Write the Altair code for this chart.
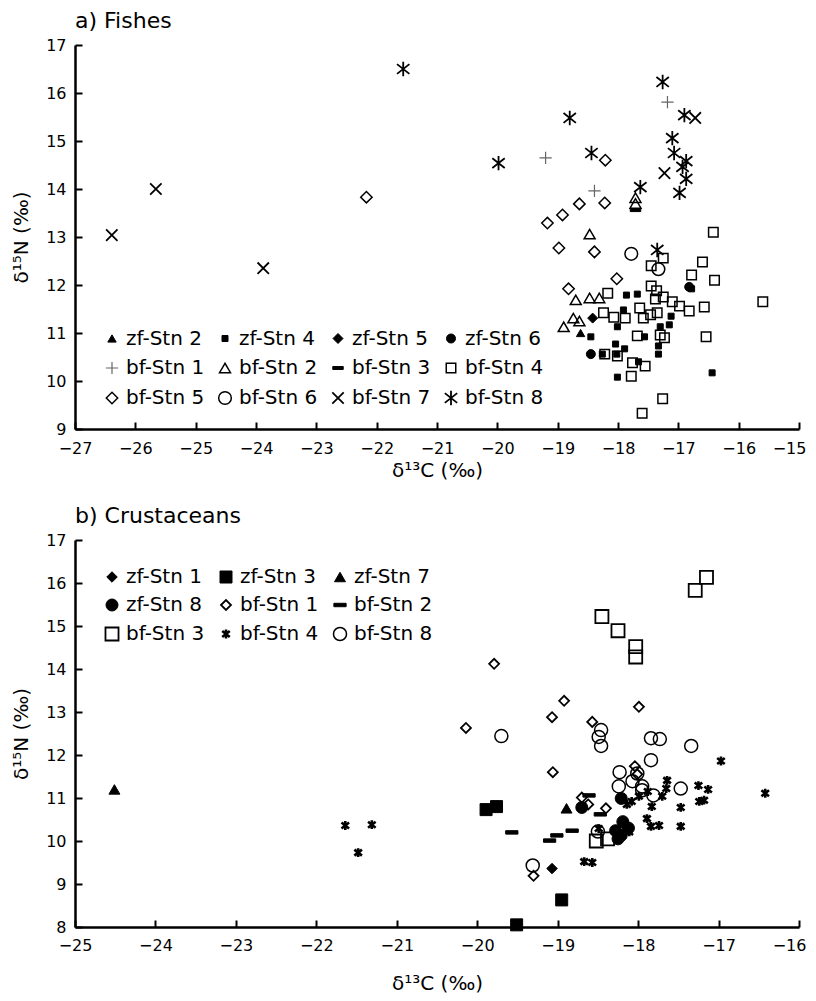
import altair as alt
import pandas as pd

# ---------------- a) Fishes ----------------
fa_names = ["zf-Stn 2", "zf-Stn 4", "zf-Stn 5", "zf-Stn 6",
            "bf-Stn 1", "bf-Stn 2", "bf-Stn 3", "bf-Stn 4",
            "bf-Stn 5", "bf-Stn 6", "bf-Stn 7", "bf-Stn 8"]

fa_zf2_x = [-18.62]
fa_zf2_y = [11.00]
fa_zf4_x = [-17.86, -17.68, -17.91, -17.12, -17.15, -17.30, -18.01, -18.45, -17.56, -18.04,
            -17.89, -17.33, -18.02, -18.26, -17.33, -17.66, -18.01, -16.44, -16.78]
fa_zf4_y = [11.79, 11.81, 11.48, 11.35, 11.17, 11.13, 11.13, 10.92, 10.92, 10.77,
            10.67, 10.73, 10.56, 10.56, 10.56, 10.40, 10.08, 10.17, 11.92]
fa_zf5_x = [-18.42]
fa_zf5_y = [11.31]
fa_zf6_x = [-18.45, -16.82]
fa_zf6_y = [10.56, 11.96]
fa_bf1_x = [-19.20, -17.18, -18.39]
fa_bf1_y = [14.65, 15.81, 13.96]
fa_bf2_x = [-17.71, -17.71, -18.47, -18.70, -18.47, -18.31, -18.90, -18.74, -18.64]
fa_bf2_y = [13.82, 13.70, 13.06, 11.69, 11.73, 11.73, 11.13, 11.31, 11.25]
fa_bf3_x = [-17.71]
fa_bf3_y = [13.56]
fa_bf4_x = [-16.42, -17.25, -17.45, -16.60, -16.78, -16.40, -18.17, -17.45, -17.36, -17.25,
            -17.38, -17.10, -16.98, -16.82, -16.57, -17.64, -17.46, -17.35, -17.58, -18.24,
            -18.07, -17.88, -17.68, -17.30, -17.23, -16.54, -18.01, -18.22, -17.76, -17.55,
            -17.78, -17.26, -17.60, -15.60]
fa_bf4_y = [13.10, 12.56, 12.40, 12.48, 12.21, 12.10, 11.83, 11.98, 11.88, 11.75,
            11.71, 11.65, 11.56, 11.46, 11.54, 11.52, 11.38, 11.42, 11.31, 11.42,
            11.33, 11.31, 10.94, 10.96, 10.90, 10.92, 10.52, 10.56, 10.38, 10.31,
            10.10, 9.63, 9.33, 11.65]
fa_bf5_x = [-22.17, -18.21, -19.17, -18.92, -18.64, -18.22, -18.98, -18.39, -18.02, -18.82]
fa_bf5_y = [13.83, 14.60, 13.29, 13.46, 13.69, 13.71, 12.77, 12.69, 12.13, 11.92]
fa_bf6_x = [-17.78, -17.33]
fa_bf6_y = [12.65, 12.33]
fa_bf7_x = [-26.39, -25.66, -23.88, -16.72, -17.23]
fa_bf7_y = [13.04, 14.00, 12.35, 15.48, 14.33]
fa_bf8_x = [-21.56, -17.26, -16.90, -18.80, -19.98, -18.44, -17.10, -17.07, -16.87, -16.93,
            -16.87, -16.98, -17.63, -17.35]
fa_bf8_y = [16.50, 16.23, 15.54, 15.48, 14.54, 14.75, 15.06, 14.75, 14.58, 14.46,
            14.21, 13.92, 14.04, 12.73]

# ---------------- b) Crustaceans ----------------
cb_names = ["zf-Stn 1", "zf-Stn 3", "zf-Stn 7",
            "zf-Stn 8", "bf-Stn 1", "bf-Stn 2",
            "bf-Stn 3", "bf-Stn 4", "bf-Stn 8"]

cb_zf1_x = [-19.07]
cb_zf1_y = [9.36]
cb_zf3_x = [-19.89, -19.76, -18.95, -19.51]
cb_zf3_y = [10.73, 10.80, 8.63, 8.05]
cb_zf7_x = [-24.51, -18.89]
cb_zf7_y = [11.20, 10.76]
cb_zf8_x = [-18.70, -18.21, -18.19, -18.21, -18.28, -18.12, -18.25]
cb_zf8_y = [10.78, 10.99, 10.45, 10.13, 10.24, 10.30, 10.05]
cb_bf1_x = [-19.79, -20.14, -18.92, -19.07, -17.99, -18.57, -19.06, -18.70, -18.04, -18.01,
            -18.40, -19.30, -18.62]
cb_bf1_y = [14.12, 12.63, 13.26, 12.88, 13.12, 12.77, 11.60, 11.01, 11.74, 11.55,
            10.76, 9.19, 10.85]
cb_bf2_x = [-19.57, -19.10, -19.01, -18.82, -18.61, -18.47]
cb_bf2_y = [10.20, 10.01, 10.13, 10.24, 11.06, 10.62]
cb_bf3_x = [-17.15, -17.29, -18.45, -18.25, -18.03, -18.03, -18.52, -18.38]
cb_bf3_y = [16.13, 15.83, 15.22, 14.89, 14.52, 14.28, 10.00, 10.05]
cb_bf4_x = [-21.64, -21.31, -21.48, -16.97, -16.42, -17.25, -17.13, -17.24, -17.18, -17.47,
            -17.47, -17.64, -17.65, -17.70, -17.83, -17.89, -17.84, -17.74, -17.88, -18.14,
            -18.08, -17.99, -18.11, -18.49, -18.67, -18.57]
cb_bf4_y = [10.36, 10.38, 9.73, 11.86, 11.11, 11.29, 11.20, 10.92, 10.95, 10.78,
            10.34, 11.41, 11.22, 11.04, 10.80, 10.52, 10.34, 10.36, 11.15, 10.85,
            10.92, 11.04, 10.21, 10.29, 9.52, 9.50]
cb_bf8_x = [-19.70, -18.46, -18.49, -18.46, -17.84, -17.73, -17.34, -17.84, -18.23, -18.07,
            -17.95, -18.24, -17.47, -18.01, -17.95, -17.81, -19.31, -18.50]
cb_bf8_y = [12.44, 12.58, 12.42, 12.21, 12.39, 12.37, 12.21, 11.88, 11.60, 11.39,
            11.27, 11.27, 11.22, 11.57, 11.18, 11.06, 9.43, 10.22]

# ---------------- marker styles ----------------
PLUS = "M-1,0L1,0M0,-1L0,1"
DASH = "M-1,-0.28L1,-0.28L1,0.28L-1,0.28Z"
XMARK = "M-1,-1L1,1M-1,1L1,-1"
AST = "M-0.95,-0.75L0.95,0.75M-0.95,0.75L0.95,-0.75M0,-1.1L0,1.1"

fa_shapes = ["triangle-up", "square", "diamond", "circle",
             PLUS, "triangle-up", DASH, "square",
             "diamond", "circle", XMARK, AST]
fa_fills = ["black", "black", "black", "black",
            "transparent", "transparent", "black", "transparent",
            "transparent", "transparent", "transparent", "transparent"]
fa_strokes = ["black", "black", "black", "black",
              "#666666", "black", "black", "black",
              "black", "black", "black", "black"]
fa_sizes = [70, 36, 100, 81, 150, 120, 110, 90, 130, 160, 130, 170]
fa_widths = [1, 1, 1, 1, 1.2, 1.5, 1, 1.5, 1.5, 1.5, 1.8, 1.8]

cb_shapes = ["diamond", "square", "triangle-up",
             "circle", "diamond", DASH,
             "square", AST, "circle"]
cb_fills = ["black", "black", "black",
            "black", "transparent", "black",
            "transparent", "transparent", "transparent"]
cb_strokes = ["black"] * 9
cb_sizes = [110, 144, 120, 144, 100, 150, 170, 64, 170]
cb_widths = [1, 1, 1, 1, 1.8, 1, 1.8, 2.6, 1.5]

FONT = "DejaVu Sans"


def frame(names, xs, ys):
    rows = []
    for n, xl, yl in zip(names, xs, ys):
        for a, b in zip(xl, yl):
            rows.append({"series": n, "x": a, "y": b})
    return pd.DataFrame(rows)


fa_df = frame(fa_names,
              [fa_zf2_x, fa_zf4_x, fa_zf5_x, fa_zf6_x, fa_bf1_x, fa_bf2_x,
               fa_bf3_x, fa_bf4_x, fa_bf5_x, fa_bf6_x, fa_bf7_x, fa_bf8_x],
              [fa_zf2_y, fa_zf4_y, fa_zf5_y, fa_zf6_y, fa_bf1_y, fa_bf2_y,
               fa_bf3_y, fa_bf4_y, fa_bf5_y, fa_bf6_y, fa_bf7_y, fa_bf8_y])
cb_df = frame(cb_names,
              [cb_zf1_x, cb_zf3_x, cb_zf7_x, cb_zf8_x, cb_bf1_x, cb_bf2_x,
               cb_bf3_x, cb_bf4_x, cb_bf8_x],
              [cb_zf1_y, cb_zf3_y, cb_zf7_y, cb_zf8_y, cb_bf1_y, cb_bf2_y,
               cb_bf3_y, cb_bf4_y, cb_bf8_y])

W = 724


def panel(df, names, shapes, fills, strokes, sizes, widths, xdom, ydom, H,
          title, title_off, ncols, lx, ly, col_pad, grid_align, xlab_pad, xtitle_pad):
    xs = alt.Scale(domain=xdom, nice=False, zero=False)
    ys = alt.Scale(domain=ydom, nice=False, zero=False)
    xvals = list(range(xdom[0], xdom[1] + 1))
    yvals = list(range(ydom[0], ydom[1] + 1))
    leg = alt.Legend(title=None, orient="none", legendX=lx, legendY=ly,
                     direction="horizontal", columns=ncols, gridAlign=grid_align,
                     labelFont=FONT, labelFontSize=20, labelColor="black",
                     labelOffset=4, columnPadding=col_pad, rowPadding=8,
                     padding=0, symbolOpacity=1)
    last = xdom[1]
    base = alt.Chart(df)
    pts = base.mark_point(opacity=1).encode(
        x=alt.X("x:Q", scale=xs,
                axis=alt.Axis(values=xvals, format="d", title="δ¹³C (‰)",
                              ticks=False, tickSize=0, labelPadding=xlab_pad,
                              labelOffset=alt.condition(f"datum.value == {last}",
                                                        alt.value(-10), alt.value(0)),
                              titlePadding=xtitle_pad)),
        y=alt.Y("y:Q", scale=ys,
                axis=alt.Axis(values=yvals, format="d", title="δ¹⁵N (‰)",
                              ticks=False, tickSize=0, labelPadding=9,
                              titlePadding=14)),
        shape=alt.Shape("series:N", scale=alt.Scale(domain=names, range=shapes), legend=leg),
        fill=alt.Fill("series:N", scale=alt.Scale(domain=names, range=fills), legend=leg),
        stroke=alt.Stroke("series:N", scale=alt.Scale(domain=names, range=strokes), legend=leg),
        size=alt.Size("series:N", scale=alt.Scale(type="ordinal", domain=names, range=sizes), legend=leg),
        strokeWidth=alt.StrokeWidth("series:N", scale=alt.Scale(type="ordinal", domain=names, range=widths), legend=leg),
    )
    tk = base.mark_point(opacity=0).encode(
        x=alt.X("x:Q", scale=xs,
                axis=alt.Axis(orient="top", offset=-H, values=xvals, labels=False,
                              domain=False, ticks=True, tickSize=7, tickWidth=2,
                              tickColor="black", title=None)),
        y=alt.Y("y:Q", scale=ys,
                axis=alt.Axis(orient="right", offset=-W, values=yvals, labels=False,
                              domain=False, ticks=True, tickSize=7, tickWidth=2,
                              tickColor="black", title=None)),
    )
    return alt.layer(pts, tk).resolve_axis(x="independent", y="independent").properties(
        width=W, height=H,
        title=alt.TitleParams(title, anchor="start", frame="group", font=FONT,
                              fontSize=22, fontWeight="normal", color="black",
                              offset=title_off),
    )


pa = panel(fa_df, fa_names, fa_shapes, fa_fills, fa_strokes, fa_sizes, fa_widths,
           [-27, -15], [9, 17], 384, "a) Fishes", 4, 4, 27, 283, 10, "all", 11, 4)
pb = panel(cb_df, cb_names, cb_shapes, cb_fills, cb_strokes, cb_sizes, cb_widths,
           [-25, -16], [8, 17], 387, "b) Crustaceans", 4, 3, 27, 27, 11, "each", 10, 20)

chart = alt.vconcat(pa, pb, spacing=25).resolve_scale(
    shape="independent", fill="independent", stroke="independent",
    size="independent", strokeWidth="independent",
    x="independent", y="independent",
).resolve_legend(
    shape="independent", fill="independent", stroke="independent",
    size="independent", strokeWidth="independent",
).properties(
    padding={"left": 3, "top": 2, "right": 0, "bottom": 0}
).configure_view(stroke=None).configure_axis(
    grid=False, labelFont=FONT, labelFontSize=16, labelColor="black",
    titleFont=FONT, titleFontSize=20, titleFontWeight="normal", titleColor="black",
    domainColor="black", domainWidth=2.5, labelFlush=False, labelOverlap=False,
)

chart.save("out.html", embed_options={"renderer": "svg", "actions": False})
